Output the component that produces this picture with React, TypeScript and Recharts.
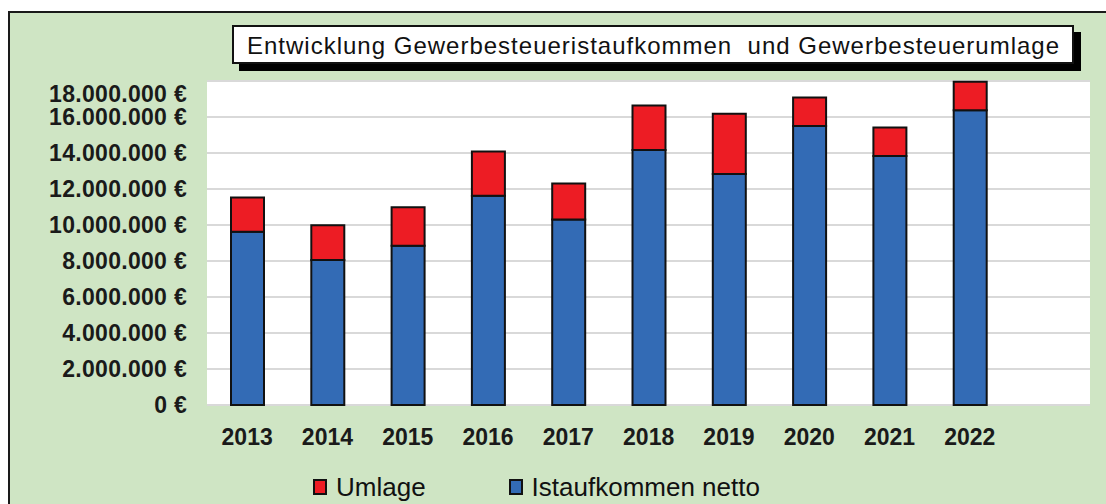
import { BarChart, Bar, XAxis, YAxis, CartesianGrid } from 'recharts'

const years = ['2013', '2014', '2015', '2016', '2017', '2018', '2019', '2020', '2021', '2022']
const netto = [9620000, 8060000, 8850000, 11620000, 10310000, 14170000, 12840000, 15500000, 13830000, 16370000]
const umlage = [1910000, 1920000, 2140000, 2470000, 1990000, 2470000, 3340000, 1590000, 1580000, 1590000]
const yTicks = [0, 2000000, 4000000, 6000000, 8000000, 10000000, 12000000, 14000000, 16000000, 18000000]

// legend order as in the original (Umlage first)
const legendItems = [
    { name: 'Umlage', color: '#ed1c24' },
    { name: 'Istaufkommen netto', color: '#336bb5' },
]

const title = 'Entwicklung Gewerbesteueristaufkommen  und Gewerbesteuerumlage'

const data = years.map((year, i) => ({ year, netto: netto[i], umlage: umlage[i] }))

const FONT = '"Liberation Sans", Arial, sans-serif'
const GREEN = '#cfe5c4'

const euro = (v: number) => String(v).replace(/\B(?=(\d{3})+(?!\d))/g, '.') + ' €'

function YTick(props: any) {
    const { x, y, payload, index } = props
    // Excel pushes the top label below the plot edge
    const shift = index === yTicks.length - 1 ? 13 : 0
    return (
        <text x={x} y={y + shift} dy="0.36em" textAnchor="end" fill="#1a1a1a"
            fontSize={23} fontWeight="bold" fontFamily={FONT} letterSpacing={0.3}>
            {euro(payload.value)}
        </text>
    )
}

function LegendBox() {
    return (
        <div style={{
            position: 'absolute', left: 313, top: 472, display: 'flex', alignItems: 'center',
            fontFamily: FONT, fontSize: 26, color: '#111',
        }}>
            {legendItems.map((item, i) => (
                <div key={item.name} style={{ display: 'flex', alignItems: 'center', marginLeft: i ? 83 : 0 }}>
                    <span style={{
                        display: 'inline-block', width: 14, height: 16, boxSizing: 'border-box',
                        background: item.color, border: '2px solid #111', marginRight: 9,
                    }} />
                    <span style={{ lineHeight: '30px' }}>{item.name}</span>
                </div>
            ))}
        </div>
    )
}

export default function App() {
    return (
        <div style={{ position: 'relative', width: 1106, height: 504, overflow: 'hidden', background: '#fff' }}>
            <style>{'body{margin:0;overflow:hidden}'}</style>
            <div style={{
                position: 'absolute', left: 8, top: 11, width: 1130, height: 530,
                background: GREEN, border: '2px solid #1a1a1a', boxSizing: 'border-box',
            }} />
            <div style={{
                position: 'absolute', left: 232, top: 25, width: 842, height: 39, boxSizing: 'border-box',
                background: '#fff', border: '2px solid #111', boxShadow: '7px 7px 0 #000',
                fontFamily: FONT, fontSize: 24, color: '#111', whiteSpace: 'pre',
                paddingLeft: 13, lineHeight: '38px', letterSpacing: 1,
            }}>
                {title}
            </div>
            <div style={{ position: 'absolute', left: 0, top: 0 }}>
                <BarChart width={1106} height={504} data={data}
                    margin={{ top: 81, right: 16, left: 0, bottom: 0 }}>
                    <CartesianGrid vertical={false} stroke="#d9d9d9" strokeWidth={2} fill="#fff" />
                    <XAxis dataKey="year" height={99} axisLine={false} tickLine={false}
                        tickSize={0} tickMargin={24} padding={{ left: 0, right: 80 }}
                        tick={{ fill: '#1a1a1a', fontSize: 23, fontWeight: 'bold', fontFamily: FONT }} />
                    <YAxis width={207} domain={[0, 18000000]} ticks={yTicks} interval={0}
                        axisLine={false} tickLine={false} tickSize={0} tickMargin={20}
                        tick={<YTick />} />
                    <Bar dataKey="netto" name="Istaufkommen netto" stackId="a" fill="#336bb5"
                        stroke="#111" strokeWidth={2} barSize={33} isAnimationActive={false} />
                    <Bar dataKey="umlage" name="Umlage" stackId="a" fill="#ed1c24"
                        stroke="#111" strokeWidth={2} barSize={33} isAnimationActive={false} />
                </BarChart>
            </div>
            <LegendBox />
        </div>
    )
}
